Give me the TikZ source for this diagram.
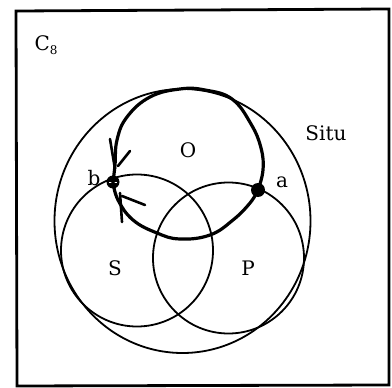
\documentclass[tikz,border=0pt]{standalone}
\usepackage{fontspec}
\setmainfont{DejaVu Serif}
\begin{document}
\begin{tikzpicture}[x=1pt,y=-1pt,
  thin circ/.style={line width=1.8pt},
  thick curve/.style={line width=3.2pt, line cap=round, line join=round},
  barb/.style={line width=2.6pt, line cap=round},
  lbl/.style={font=\fontsize{20}{24}\selectfont, inner sep=0pt},
  dotnode/.style={circle, fill=black, inner sep=0pt, minimum size=13pt}]
\useasboundingbox (0,0) rectangle (392,388);
% frame
\draw[line width=2.8pt] (16,11) -- (389,9) -- (389,385) -- (17,386) -- cycle;
% circles
\draw[thin circ] (182.5,221) ellipse [x radius=128pt, y radius=132pt];
\draw[thin circ] (137,250.5) circle [radius=76pt];
\draw[thin circ] (228.5,258) circle [radius=75.5pt];
% points
\node[dotnode] (b) at (113,182) {};
\node[dotnode, minimum size=14pt] (a) at (258,190) {};
\draw[white, line width=0.5pt] (109,182) -- (117,182) (113,179) -- (113,185);
% thick O loop
\draw[thick curve] plot[smooth, tension=0.7] coordinates {(a) (263,170) (261,148) (251,124) (232,99) (205,90) (180,89) (150,97) (127,117) (117,140) (115,165) (b)};
\draw[thick curve] plot[smooth, tension=0.7] coordinates {(b) (118,200) (133,220) (157,233) (180,239) (210,235) (233,220) (250,203) (a)};
% arrow barbs near b
\draw[barb] (110,139) -- (115,169);
\draw[barb] (130,151) -- (118,166);
\draw[barb] (120,193) -- (122,222);
\draw[barb] (122,196) -- (145,205);
% labels
\node[lbl] (c8) at (46,45) {C\raisebox{-0.45ex}{\fontsize{12}{14}\selectfont 8}};
\node[lbl] (situ) at (326,133) {Situ};
\node[lbl] (o) at (188,150) {O};
\node[lbl] (lb) at (94,178) {b};
\node[lbl] (la) at (282,182) {a};
\node[lbl] (s) at (115,268) {S};
\node[lbl] (p) at (248,268) {P};
\end{tikzpicture}
\end{document}
